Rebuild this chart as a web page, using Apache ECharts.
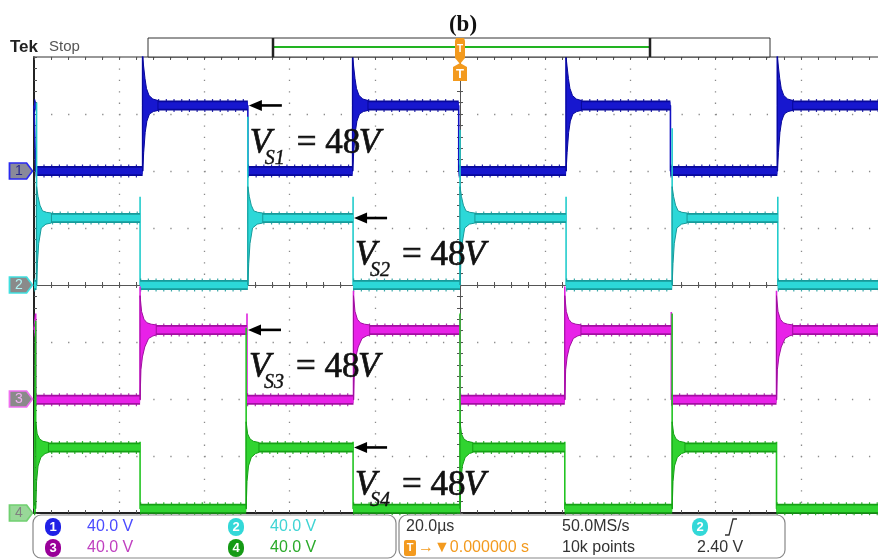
<!DOCTYPE html>
<html><head><meta charset="utf-8">
<script src="https://cdn.jsdelivr.net/npm/echarts@6/dist/echarts.min.js"></script>
<style>html,body{margin:0;padding:0;background:#fff}#c{width:878px;height:560px}</style>
</head><body><div id="c"></div>
<script>
// ---- time axis: 20 µs/div, 10 divisions ----
const timeMin = -100, timeMax = 100, timeDiv = 20;
const voltsPerDiv = 40;
// ---- channel 1 ----
const ch1Rise = [-74.5, -25.2, 24.9, 74.5];
const ch1Fall = [-99.6, -49.8, -0.3, 49.4];
const ch1Levels = [0, 46];
const ch1RisePeaks = [90, 90, 90, 90];
const ch1FallPeaks = [47, 47, 47, 47];
const ch1RingUpper = [[0,34],[0.25,27],[0.55,19],[0.9,12],[1.5,7],[2.4,4.5],[3.6,3.5]];
const ch1RingLower = [[0,-46],[0.25,-33],[0.6,-19],[1.0,-11],[1.6,-6],[2.5,-4.3],[3.6,-3.5]];
// ---- channel 2 ----
const ch2Rise = [-99.4, -49.8, 0, 49.8];
const ch2Fall = [-75.1, -25.1, 24.9, 74.6];
const ch2Levels = [0, 47];
const ch2RisePeaks = [128, 118, 109, 110];
const ch2FallPeaks = [62, 62, 62, 62];
const ch2RingUpper = [[0,22],[0.35,15],[0.8,9],[1.4,5],[2.3,4],[3.5,3.5]];
const ch2RingLower = [[0,-47],[0.2,-32],[0.5,-18],[1.1,-7],[2.2,-4.3],[3.5,-3.5]];
// ---- channel 3 ----
const ch3Rise = [-75.1, -25.0, 24.6, 74.3];
const ch3Fall = [-99.6, -50.0, 0, 49.6];
const ch3Levels = [-0.5, 48.5];
const ch3RisePeaks = [79, 76, 79, 76];
const ch3FallPeaks = [60, 60, 59, 61];
const ch3RingUpper = [[0,24],[0.35,13],[0.9,7.5],[1.6,5],[2.6,4],[3.8,3.5]];
const ch3RingLower = [[0,-49],[0.2,-28],[0.55,-19],[1.1,-12],[2.0,-6],[3.0,-4.3],[3.8,-3.5]];
// ---- channel 4 ----
const ch4Rise = [-99.6, -50.2, 0, 49.8];
const ch4Fall = [-75.1, -25.1, 24.6, 74.3];
const ch4Levels = [3, 46];
const ch4RisePeaks = [135, 130, 140, 140];
const ch4FallPeaks = [50, 50, 50, 50];
const ch4RingUpper = [[0,18],[0.35,9.5],[0.9,6],[1.7,4.3],[3,3.5]];
const ch4RingLower = [[0,-43],[0.2,-24],[0.55,-13],[1.2,-7],[2.2,-4.3],[3,-3.5]];
// ---- annotations & status ----
const annotSubs = ['S1', 'S2', 'S3', 'S4'];
const annotValue = '48';
const scaleLabels = ['40.0 V', '40.0 V', '40.0 V', '40.0 V'];
const timebase = '20.0µs', sampleRate = '50.0MS/s', recordLen = '10k points', trigPos = '→▼0.000000 s', trigLevel = '2.40 V';

const CH = [
  {rise:ch1Rise, fall:ch1Fall, lv:ch1Levels, rp:ch1RisePeaks, fp:ch1FallPeaks, up:ch1RingUpper, lo:ch1RingLower, off:2,  dark:'#08089a', light:'#1717cf', mid:'#1212c4', mk:'#2a2af0', mkText:'#28288c', mkFill:'#8a8a9a'},
  {rise:ch2Rise, fall:ch2Fall, lv:ch2Levels, rp:ch2RisePeaks, fp:ch2FallPeaks, up:ch2RingUpper, lo:ch2RingLower, off:0,  dark:'#179a9a', light:'#2cd8d8', mid:'#22cccc', mk:'#40e0e0', mkText:'#b0f4f4', mkFill:'#8a8a8a'},
  {rise:ch3Rise, fall:ch3Fall, lv:ch3Levels, rp:ch3RisePeaks, fp:ch3FallPeaks, up:ch3RingUpper, lo:ch3RingLower, off:-2, dark:'#a010a0', light:'#e821e8', mid:'#dd22dd', mk:'#f070f0', mkText:'#f0b0f0', mkFill:'#8a8a8a'},
  {rise:ch4Rise, fall:ch4Fall, lv:ch4Levels, rp:ch4RisePeaks, fp:ch4FallPeaks, up:ch4RingUpper, lo:ch4RingLower, off:-4, dark:'#15a015', light:'#30d430', mid:'#22c422', mk:'#70d070', mkText:'#808080', mkFill:'#98d898'}
];

function build(c) {
  const [lo, hi] = c.lv;
  const ev = c.rise.map((t,i)=>({t, up:true, pk:c.rp[i]}))
    .concat(c.fall.map((t,i)=>({t, up:false, pk:c.fp[i]})))
    .sort((a,b)=>a.t-b.t);
  let state = ev[0].up ? lo : hi;
  const trace = [[timeMin, state]];
  const band = [];
  let segStart = timeMin;
  ev.forEach(e => {
    band.push([segStart, state], [e.t, state], [e.t, '-']);
    if (e.up) { trace.push([e.t, lo], [e.t, e.pk], [e.t, hi]); state = hi; }
    else { trace.push([e.t, hi], [e.t, e.pk], [e.t, lo]); state = lo; }
    segStart = e.t;
  });
  band.push([segStart, state], [timeMax, state]);
  trace.push([timeMax, state]);
  return {trace, band, ringData: c.rise.map(t => [t, hi])};
}

const chart = echarts.init(document.getElementById('c'), null, {renderer:'canvas'});
const gridRect = {left:34, top:57, width:852, height:456};
const tickStyle = {color:'#555', width:1};
const series = [];
const yAxes = [];
CH.forEach((c, i) => {
  yAxes.push({type:'value', show:false, min:(-4 - c.off)*voltsPerDiv, max:(4 - c.off)*voltsPerDiv});
  const d = build(c);
  const base = 10 + i*6;
  series.push({
    type:'line', xAxisIndex:0, yAxisIndex:i, data:d.trace, symbol:'none', silent:true,
    lineStyle:{color:c.mid, width:1.6}, z:base, animation:false, clip:true,
    markPoint:{symbol:'path://M0,0 L17,0 L23,8 L17,16 L0,16 Z', symbolSize:[23,16], symbolOffset:[-13,0],
      silent:true, animation:false,
      itemStyle:{color:c.mkFill, borderColor:c.mk, borderWidth:1.5},
      label:{show:true, formatter:String(i+1), color:c.mkText, fontSize:14, fontFamily:'Liberation Sans', offset:[-2,0]},
      data:[{coord:[timeMin, 0]}]}
  });
  // noise fringe
  series.push({type:'line', xAxisIndex:0, yAxisIndex:i, data:d.band, symbol:'none', silent:true, connectNulls:false,
    lineStyle:{color:c.dark, width:13, type:[1.2,6.5], opacity:0.85}, z:base+1, animation:false, clip:true});
  series.push({type:'line', xAxisIndex:0, yAxisIndex:i, data:d.band, symbol:'none', silent:true, connectNulls:false,
    lineStyle:{color:c.dark, width:10}, z:base+2, animation:false, clip:true});
  series.push({type:'line', xAxisIndex:0, yAxisIndex:i, data:d.band, symbol:'none', silent:true, connectNulls:false,
    lineStyle:{color:c.light, width:6.5}, z:base+3, animation:false, clip:true});
  series.push({type:'custom', xAxisIndex:0, yAxisIndex:i, data:d.ringData, silent:true, z:base+4, clip:true, animation:false,
    renderItem:(params, api) => {
      const t0 = api.value(0), lvl = api.value(1);
      const pts = c.up.map(([dt,v]) => api.coord([t0+dt, lvl+v]))
        .concat(c.lo.slice().reverse().map(([dt,v]) => api.coord([t0+dt, lvl+v])));
      return {type:'polygon', shape:{points:pts}, style:{fill:c.light, stroke:c.dark, lineWidth:1}};
    }});
});
// graticule / frame axes
yAxes.push({type:'value', min:-160, max:160, interval:voltsPerDiv, position:'left',
  axisLine:{show:false}, axisTick:{show:false}, axisLabel:{show:false},
  splitLine:{show:true, lineStyle:{color:'#8a8a8a', width:1.3, type:[1.3,15.74]}}});
yAxes.push({type:'value', min:-160, max:160, interval:voltsPerDiv, position:'left',
  axisLine:{show:true, onZero:true, onZeroAxisIndex:0, lineStyle:{color:'#555', width:1}},
  axisTick:{show:true, inside:true, length:3, lineStyle:tickStyle},
  minorTick:{show:true, splitNumber:5, length:3, lineStyle:tickStyle},
  axisLabel:{show:false}, splitLine:{show:false}});
yAxes.push({type:'value', min:-160, max:160, interval:voltsPerDiv, position:'right',
  axisLine:{show:true, onZero:true, onZeroAxisIndex:0, lineStyle:{color:'#555', width:1}},
  axisTick:{show:true, inside:true, length:3, lineStyle:tickStyle},
  minorTick:{show:true, splitNumber:5, length:3, lineStyle:tickStyle},
  axisLabel:{show:false}, splitLine:{show:false}});
yAxes.push({type:'value', min:-160, max:160, interval:voltsPerDiv, position:'left',
  axisLine:{show:true, onZero:false, lineStyle:{color:'#222', width:2}},
  axisTick:{show:true, inside:true, length:3, lineStyle:tickStyle},
  minorTick:{show:true, splitNumber:5, length:3, lineStyle:tickStyle},
  axisLabel:{show:false}, splitLine:{show:false}});

const xCommon = {type:'value', min:timeMin, max:timeMax, interval:timeDiv, axisLabel:{show:false}};
const xAxes = [
  Object.assign({}, xCommon, {position:'bottom',
    axisLine:{show:true, onZero:true, onZeroAxisIndex:4, lineStyle:{color:'#555', width:1}},
    axisTick:{show:true, inside:true, length:3, lineStyle:tickStyle},
    minorTick:{show:true, splitNumber:5, length:3, lineStyle:tickStyle},
    splitLine:{show:true, lineStyle:{color:'#8a8a8a', width:1.3, type:[1.3,10.1]}}}),
  Object.assign({}, xCommon, {position:'top',
    axisLine:{show:true, onZero:true, onZeroAxisIndex:4, lineStyle:{color:'#555', width:1}},
    axisTick:{show:true, inside:true, length:3, lineStyle:tickStyle},
    minorTick:{show:true, splitNumber:5, length:3, lineStyle:tickStyle}, splitLine:{show:false}}),
  Object.assign({}, xCommon, {position:'top',
    axisLine:{show:true, onZero:false, lineStyle:{color:'#777', width:1.5}},
    axisTick:{show:true, inside:true, length:3, lineStyle:tickStyle},
    minorTick:{show:true, splitNumber:5, length:3, lineStyle:tickStyle}, splitLine:{show:false}}),
  Object.assign({}, xCommon, {position:'bottom',
    axisLine:{show:true, onZero:false, lineStyle:{color:'#222', width:2}},
    axisTick:{show:true, inside:true, length:3, lineStyle:tickStyle},
    minorTick:{show:true, splitNumber:5, length:3, lineStyle:tickStyle}, splitLine:{show:false}})
];

chart.setOption({
  animation:false,
  backgroundColor:'#ffffff',
  grid:Object.assign({containLabel:false, outerBoundsMode:'none', show:false}, gridRect),
  xAxis:xAxes, yAxis:yAxes, series:series
});

// ---- decorations ----
function txt(x, y, text, font, fill, align, extra, styleExtra) {
  return Object.assign({type:'text', x, y, z:100,
    style:Object.assign({text, font, fill, textAlign:align||'left', textVerticalAlign:'middle', align:align||'left', verticalAlign:'middle'}, styleExtra||{})}, extra||{});
}
const orange = '#f39a1e';
const g = [];
g.push(txt(463, 25, '(b)', 'bold 23px "Liberation Serif"', '#111', 'center'));
g.push(txt(10, 47, 'Tek', 'bold 17px "Liberation Sans"', '#222'));
g.push(txt(49, 47, 'Stop', '15px "Liberation Sans"', '#555'));
// record bar
g.push({type:'rect', z:50, shape:{x:148, y:38, width:622, height:19}, style:{fill:'#fff', stroke:'#333', lineWidth:1}});
g.push({type:'line', z:51, shape:{x1:273, y1:47, x2:650, y2:47}, style:{stroke:'#22b422', lineWidth:2}});
g.push({type:'line', z:51, shape:{x1:273, y1:38, x2:273, y2:57}, style:{stroke:'#222', lineWidth:2.5}});
g.push({type:'line', z:51, shape:{x1:650, y1:38, x2:650, y2:57}, style:{stroke:'#222', lineWidth:2.5}});
// trigger position marker
g.push({type:'polygon', z:60, shape:{points:[[456,38],[464,38],[465,41],[465,58],[460,64],[455,58],[455,41]]}, style:{fill:orange}});
g.push(txt(460, 49, 'T', 'bold 10px "Liberation Sans"', '#fff', 'center', {z:61}));
g.push({type:'polygon', z:60, shape:{points:[[460,63],[467,67],[467,81],[453,81],[453,67]]}, style:{fill:orange}});
g.push(txt(460, 74, 'T', 'bold 13px "Liberation Sans"', '#fff', 'center', {z:61}));
// status boxes
g.push({type:'rect', z:50, shape:{x:33, y:515, width:363, height:43, r:8}, style:{fill:'#fff', stroke:'#888', lineWidth:1.2}});
g.push({type:'rect', z:50, shape:{x:399, y:515, width:386, height:43, r:8}, style:{fill:'#fff', stroke:'#888', lineWidth:1.2}});
const badge = [{x:53,y:527,c:'#2020e6'},{x:236,y:527,c:'#33d8d8'},{x:53,y:548,c:'#990099'},{x:236,y:548,c:'#159a15'}];
const valCol = ['#4b4bff','#3fd4d4','#c040c0','#2aaa2a'];
const sFont = '16px "Liberation Sans Narrow", "Liberation Sans"';
badge.forEach((b,i)=>{
  g.push({type:'rect', z:51, shape:{x:b.x-8, y:b.y-9, width:16, height:18, r:8}, style:{fill:b.c}});
  g.push(txt(b.x, b.y, String(i+1), 'bold 13px "Liberation Sans"', '#fff', 'center', {z:52}));
  g.push(txt(b.x+34, b.y, scaleLabels[i], sFont, valCol[i], 'left', {z:52}));
});
g.push(txt(406, 527, timebase, sFont, '#333'));
g.push(txt(562, 527, sampleRate, sFont, '#333'));
g.push({type:'rect', z:51, shape:{x:692, y:518, width:16, height:18, r:8}, style:{fill:'#33d8d8'}});
g.push(txt(700, 527, '2', 'bold 13px "Liberation Sans"', '#fff', 'center', {z:52}));
g.push({type:'polyline', z:52, shape:{points:[[725,535],[729,535],[733,519],[737,519]]}, style:{stroke:'#333', lineWidth:1.3, fill:null}});
g.push({type:'rect', z:51, shape:{x:404, y:540, width:12, height:16, r:2}, style:{fill:orange}});
g.push(txt(410, 548, 'T', 'bold 11px "Liberation Sans"', '#fff', 'center', {z:52}));
g.push(txt(418, 548, trigPos, sFont, orange));
g.push(txt(562, 548, recordLen, sFont, '#333'));
g.push(txt(697, 548, trigLevel, sFont, '#333'));
// voltage annotations (arrow tip at end of the high level before the marked falling edge)
const heavy = {stroke:'#111', lineWidth:0.7};
CH.forEach((c, i) => {
  const p = chart.convertToPixel({xAxisIndex:0, yAxisIndex:i}, [c.fall[1], c.lv[1]]);
  const x = p[0], y = p[1];
  g.push({type:'line', z:100, shape:{x1:x+10, y1:y, x2:x+34, y2:y}, style:{stroke:'#000', lineWidth:2.6}});
  g.push({type:'polygon', z:100, shape:{points:[[x+1,y],[x+14,y-5.5],[x+14,y+5.5]]}, style:{fill:'#000'}});
  g.push(txt(x+2, y+38, 'V', 'italic 35px "Liberation Serif"', '#111', 'left', null, heavy));
  g.push(txt(x+17, y+53, annotSubs[i], 'italic 20px "Liberation Serif"', '#111', 'left', null, {stroke:'#111', lineWidth:0.4}));
  g.push(txt(x+49, y+38, '= ' + annotValue, '35px "Liberation Serif"', '#111', 'left', null, heavy));
  g.push(txt(x+111, y+38, 'V', 'italic 35px "Liberation Serif"', '#111', 'left', null, heavy));
});
chart.setOption({graphic:g});
</script></body></html>
